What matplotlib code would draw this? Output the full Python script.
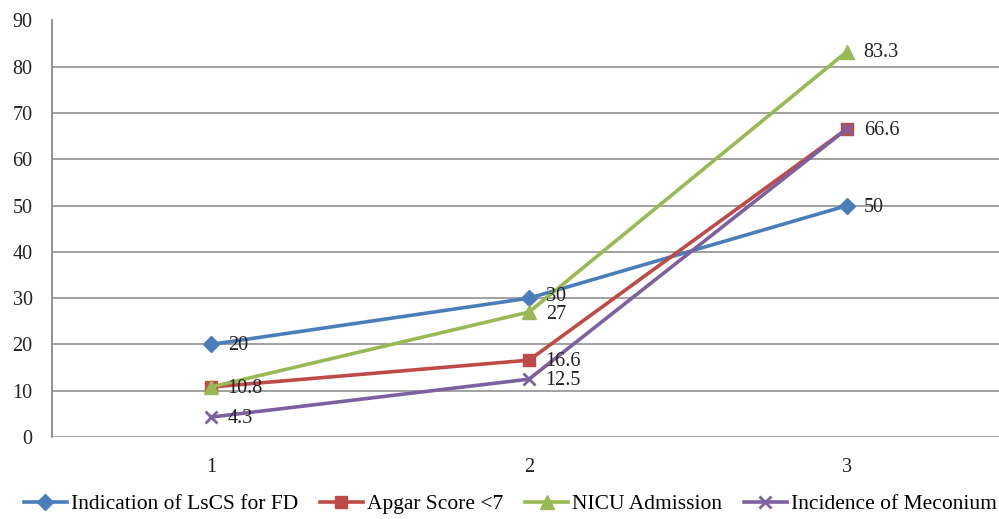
import matplotlib
matplotlib.use('Agg')

import matplotlib.pyplot as plt

categories = [1, 2, 3]
lscs_fd = [20, 30, 50]
apgar = [10.8, 16.6, 66.6]
nicu = [10.8, 27, 83.3]
meconium = [4.3, 12.5, 66.6]

series_names = ['Indication of LsCS for FD', 'Apgar Score <7', 'NICU Admission', 'Incidence of Meconium']
series_vals = [lscs_fd, apgar, nicu, meconium]
colors = ['#4A7EBB', '#BE4B48', '#98B954', '#7D60A0']
markers = ['D', 's', '^', 'x']
msizes = [8, 9, 10, 9]

# which points get a value label (some overlap in the source, so only one is shown)
show_label = [[True, True, True],
              [True, True, True],
              [False, True, True],
              [True, True, False]]

plt.rcParams['font.family'] = ['Liberation Serif', 'DejaVu Serif']

fig = plt.figure(figsize=(9.99, 5.19), dpi=100)
ax = fig.add_axes([52/999, 1 - 437/519, 954/999, (437 - 20.5)/519])

for name, vals, c, m, ms, lab in zip(series_names, series_vals, colors, markers, msizes, show_label):
    ax.plot(categories, vals, color=c, lw=2.6, marker=m, markersize=ms,
            markeredgewidth=2 if m == 'x' else 1, markeredgecolor=c, label=name, zorder=3)
    for x, v, s in zip(categories, vals, lab):
        if s:
            dy = -1
            if v == 30:
                dy = 1
            elif v == 27:
                dy = -2
            ax.annotate(f'{v:g}', (x, v), xytext=(12, dy), textcoords='offset points',
                        va='center', ha='left', fontsize=14.5, color='#222222', zorder=4)

ax.set_xlim(0.5, 3.5)
ax.set_ylim(0, 90)
ax.set_yticks(range(0, 91, 10))
ax.set_xticks(categories)
ax.grid(axis='y', color='#9a9a9a', lw=1.3)
ax.set_axisbelow(True)
for s in ['top', 'right', 'bottom']:
    ax.spines[s].set_visible(False)
ax.spines['left'].set_color('#8a8a8a')
ax.spines['left'].set_linewidth(1.3)
ax.tick_params(axis='both', length=0, labelsize=14.5, colors='#222222')
ax.tick_params(axis='y', pad=14)
ax.tick_params(axis='x', pad=15)

fig.legend(loc='lower center', bbox_to_anchor=(0.511, -0.028), ncol=4, frameon=False,
           fontsize=15.5, handlelength=2.0, columnspacing=1.0, handletextpad=0.2)

fig.savefig('out.png', dpi=100)
